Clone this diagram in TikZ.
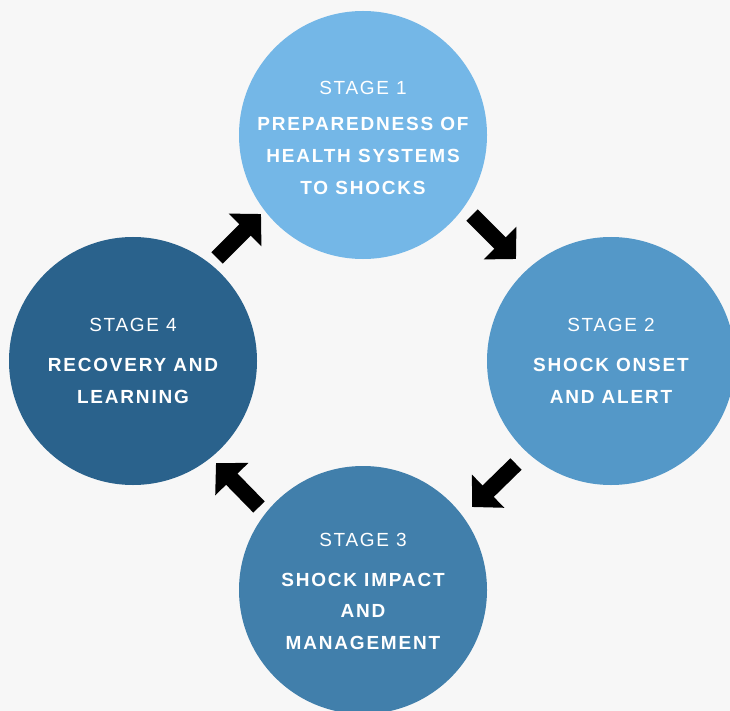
\documentclass[tikz,border=0pt]{standalone}
\usepackage{fontspec}
\setmainfont{Liberation Sans}
\newfontfamily\regsp[LetterSpace=9]{Liberation Sans}
\newfontfamily\boldsp[LetterSpace=9.5]{Liberation Sans Bold}
\usetikzlibrary{arrows.meta}
\definecolor{bgc}{HTML}{F7F7F7}
\definecolor{cone}{HTML}{74B7E7}
\definecolor{ctwo}{HTML}{5498C8}
\definecolor{cthree}{HTML}{417FAB}
\definecolor{cfour}{HTML}{2A628C}
\tikzset{
  stagecirc/.style={circle, minimum size=248pt, inner sep=0pt},
  stagelbl/.style={text=white, font=\regsp\fontsize{19}{22}\selectfont, inner sep=0pt},
  titlelbl/.style={text=white, font=\boldsp\fontsize{19}{22}\selectfont, inner sep=0pt},
  blockarrow/.style={line width=16pt, black, -{Triangle[width=45pt,length=22.6pt]}}
}
\begin{document}
\begin{tikzpicture}[x=1pt,y=-1pt]
\fill[bgc] (0,0) rectangle (730,711);
\useasboundingbox (0,0) rectangle (730,711);
\begin{scope}
\clip (0,0) rectangle (730,711);
\node[stagecirc, fill=cone] (s1) at (363,135) {};
\node[stagecirc, fill=ctwo] (s2) at (611,361) {};
\node[stagecirc, fill=cthree] (s3) at (363,590) {};
\node[stagecirc, fill=cfour] (s4) at (133,361) {};
\end{scope}
% stage 1
\node[stagelbl] (s1a) at (363,88) {STAGE 1};
\node[titlelbl] (s1b) at (363,124) {PREPAREDNESS OF};
\node[titlelbl] (s1c) at (363,156) {HEALTH SYSTEMS};
\node[titlelbl] (s1d) at (363,188) {TO SHOCKS};
% stage 2
\node[stagelbl] (s2a) at (611,325) {STAGE 2};
\node[titlelbl] (s2b) at (611,365) {SHOCK ONSET};
\node[titlelbl] (s2c) at (611,397) {AND ALERT};
% stage 3
\node[stagelbl] (s3a) at (363,540) {STAGE 3};
\node[titlelbl] (s3b) at (363,580) {SHOCK IMPACT};
\node[titlelbl] (s3c) at (363,611) {AND};
\node[titlelbl] (s3d) at (363,643) {MANAGEMENT};
% stage 4
\node[stagelbl] (s4a) at (133,325) {STAGE 4};
\node[titlelbl] (s4b) at (133,365) {RECOVERY AND};
\node[titlelbl] (s4c) at (133,397) {LEARNING};
% arrows
\coordinate (a1t) at (472,215);
\coordinate (a1h) at (516,259);
\coordinate (a2t) at (516,464);
\coordinate (a2h) at (472,507);
\coordinate (a3t) at (259,507);
\coordinate (a3h) at (216,463);
\coordinate (a4t) at (217,258);
\coordinate (a4h) at (261,214);
\draw[blockarrow] (a1t) -- (a1h);
\draw[blockarrow] (a2t) -- (a2h);
\draw[blockarrow] (a3t) -- (a3h);
\draw[blockarrow] (a4t) -- (a4h);
\end{tikzpicture}
\end{document}
